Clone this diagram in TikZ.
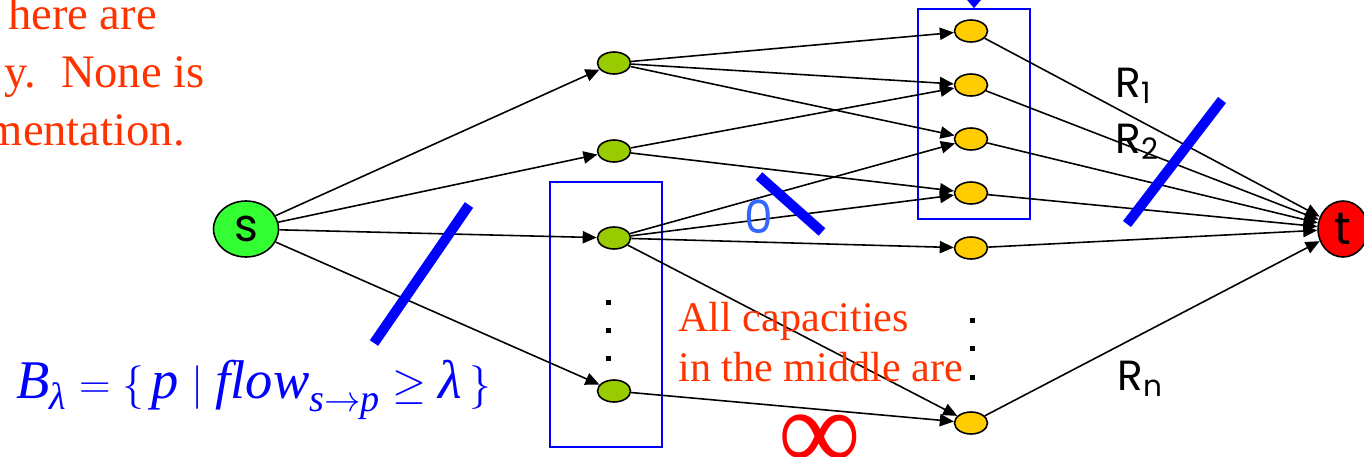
\documentclass[tikz,border=0pt]{standalone}
\usepackage{amsmath}
\usepackage{fontspec}
\usepackage{tikz}
\usetikzlibrary{arrows.meta,shapes.geometric,positioning}
\newfontfamily\gothfont{Poppins}
\newfontfamily\romfont{Liberation Serif}
\usepackage{xcolor}
\definecolor{sgreen}{RGB}{51,255,51}
\definecolor{pgreen}{RGB}{153,204,0}
\definecolor{pgold}{RGB}{255,204,0}
\definecolor{tred}{RGB}{255,0,0}
\definecolor{notered}{RGB}{255,51,0}
\definecolor{zeroblue}{RGB}{51,102,255}

\begin{document}
\begin{tikzpicture}[x=0.02cm, y=-0.02cm,
        terminal/.style={draw, ellipse, line width=0.9pt, inner sep=0pt, minimum width=1.3cm, minimum height=1.12cm, font=\gothfont\fontsize{26}{26}\selectfont},
        vertex/.style={draw, ellipse, line width=0.9pt, inner sep=0pt, minimum width=0.66cm, minimum height=0.44cm},
        flow/.style={line width=0.9pt, -{Triangle[length=8pt,width=7pt]}},
        group/.style={draw=blue, line width=1pt, inner sep=0pt},
        cut/.style={blue, line width=5.7pt},
        note/.style={text=notered, font=\romfont\fontsize{24}{28.3}\selectfont, inner sep=0pt},
        rlabel/.style={font=\gothfont\fontsize{24}{24}\selectfont, inner sep=0pt, anchor=base west},
        dotmark/.style={fill, inner sep=0pt, minimum size=0.1cm}
    ]
    \useasboundingbox (0,0) rectangle (1364,456);
    % Caixas
    \node[group, minimum width=2.24cm, minimum height=5.3cm] (lbox) at (606,314.5) {};
    \node[group, minimum width=2.24cm, minimum height=4.2cm] (rbox) at (974,114) {};
    \coordinate (feed) at (974,-40);
    \draw[blue, line width=1pt, -{Triangle[length=6pt,width=10pt]}] (feed) -- (rbox.north);
    % Terminais
    \node[terminal, fill=sgreen] (s) at (246,229) {s};
    \node[terminal, fill=tred, minimum width=1.0cm] (t) at (1343,229) {t};
    % Camada do meio
    \node[vertex, fill=pgreen] (g1) at (614,63) {};
    \node[vertex, fill=pgreen] (g2) at (614,151) {};
    \node[vertex, fill=pgreen] (g3) at (614,238) {};
    \node[vertex, fill=pgreen] (g4) at (614,391) {};
    \node[vertex, fill=pgold] (y1) at (971,31) {};
    \node[vertex, fill=pgold] (y2) at (971,85) {};
    \node[vertex, fill=pgold] (y3) at (971,139) {};
    \node[vertex, fill=pgold] (y4) at (971,193) {};
    \node[vertex, fill=pgold] (y5) at (971,248) {};
    \node[vertex, fill=pgold] (y6) at (971,423) {};
    % Pontos
    \node[dotmark] (ld1) at (608,302) {};
    \node[dotmark] (ld2) at (608,330) {};
    \node[dotmark] (ld3) at (608,358) {};
    \node[dotmark] (rd1) at (972,320) {};
    \node[dotmark] (rd2) at (972,348) {};
    \node[dotmark] (rd3) at (972,377) {};
    % Arestas
    \draw[flow] (s) -- (g1);
    \draw[flow] (s) -- (g2);
    \draw[flow] (s) -- (g3);
    \draw[flow] (s) -- (g4);
    \draw[flow] (g1) -- (y1);
    \draw[flow] (g1) -- (y2);
    \draw[flow] (g1) -- (y3);
    \draw[flow] (g2) -- (y2);
    \draw[flow] (g2) -- (y4);
    \draw[flow] (g3) -- (y3);
    \draw[flow] (g3) -- (y4);
    \draw[flow] (g3) -- (y5);
    \draw[flow] (g3) -- (y6);
    \draw[flow] (g4) -- (y6);
    \draw[flow] (y1) -- (t);
    \draw[flow] (y2) -- (t);
    \draw[flow] (y3) -- (t);
    \draw[flow] (y4) -- (t);
    \draw[flow] (y5) -- (t);
    \draw[flow] (y6) -- (t);
    % Cortes
    \draw[cut] (374,343) -- (469,205);
    \draw[cut] (759,176) -- (822,232);
    \draw[cut] (1127,224) -- (1222,100);
    % Rótulos
    \node[text=zeroblue, font=\gothfont\fontsize{26}{26}\selectfont, inner sep=0pt] (zero) at (759,217) {0};
    \node[rlabel] (r1) at (1115,97) {R\textsubscript{1}};
    \node[rlabel] (r2) at (1115,153) {R\textsubscript{2}};
    \node[rlabel] (rn) at (1117,390) {R\textsubscript{n}};
    \node[note, font=\romfont\fontsize{26.5}{30}\selectfont, anchor=base east] (n1) at (157,30) {here are};
    \node[note, font=\romfont\fontsize{26.5}{30}\selectfont, anchor=base east] (n2) at (205,88) {y.\hspace{14pt}None is};
    \node[note, font=\romfont\fontsize{26.5}{30}\selectfont, anchor=base east] (n3) at (185,145) {mentation.};
    \node[note, anchor=north west, align=left] (cap) at (678,302) {All capacities\\in the middle are};
    \node[text=tred, font=\romfont\fontsize{66}{66}\selectfont, inner sep=0pt, anchor=base] (inf) at (820,470) {∞};
    \node[text=blue, font=\romfont\fontsize{31}{34}\selectfont, inner sep=0pt, anchor=base west] (bset) at (16,398)
        {$\textit{B}_{\textit{λ}} = \{\, \textit{p} \mid \textit{flow}_{\textit{s}\to \textit{p}} \geq \textit{λ} \,\}$};
\end{tikzpicture}
\end{document}
